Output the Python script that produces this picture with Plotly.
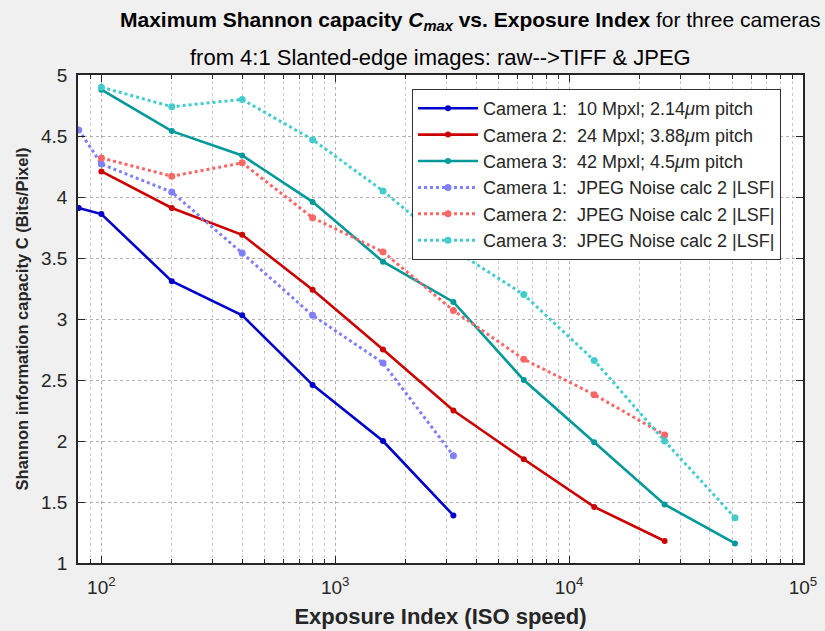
import plotly.graph_objects as go

iso_c1 = [80, 100, 200, 400, 800, 1600, 3200]
cap_c1 = [3.91, 3.86, 3.31, 3.03, 2.46, 2.00, 1.39]
iso_c2 = [100, 200, 400, 800, 1600, 3200, 6400, 12800, 25600]
cap_c2 = [4.21, 3.91, 3.69, 3.24, 2.75, 2.25, 1.85, 1.46, 1.18]
iso_c3 = [100, 200, 400, 800, 1600, 3200, 6400, 12800, 25600, 51200]
cap_c3 = [4.88, 4.54, 4.34, 3.96, 3.47, 3.14, 2.50, 1.99, 1.48, 1.16]

iso_j1 = [80, 100, 200, 400, 800, 1600, 3200]
cap_j1 = [4.55, 4.27, 4.04, 3.54, 3.03, 2.64, 1.88]
iso_j2 = [100, 200, 400, 800, 1600, 3200, 6400, 12800, 25600]
cap_j2 = [4.32, 4.17, 4.28, 3.83, 3.55, 3.07, 2.67, 2.38, 2.05]
iso_j3 = [100, 200, 400, 800, 1600, 3200, 6400, 12800, 25600, 51200]
cap_j3 = [4.90, 4.74, 4.80, 4.47, 4.05, 3.57, 3.20, 2.66, 2.00, 1.37]

x_major = [100, 1000, 10000, 100000]
x_major_text = ["10<sup>2</sup>", "10<sup>3</sup>", "10<sup>4</sup>", "10<sup>5</sup>"]
x_minor = [m * 10 ** e for e in (1, 2, 3, 4) for m in range(2, 10)]

nb = "\u00a0"
names = [
    f"Camera 1:{nb}{nb}10 Mpxl; 2.14<i>μ</i>m pitch",
    f"Camera 2:{nb}{nb}24 Mpxl; 3.88<i>μ</i>m pitch",
    f"Camera 3:{nb}{nb}42 Mpxl; 4.5<i>μ</i>m pitch",
    f"Camera 1:{nb}{nb}JPEG Noise calc 2 |LSF|",
    f"Camera 2:{nb}{nb}JPEG Noise calc 2 |LSF|",
    f"Camera 3:{nb}{nb}JPEG Noise calc 2 |LSF|",
]
series = [
    (iso_c1, cap_c1, "#0000CC", "solid"),
    (iso_c2, cap_c2, "#CC0000", "solid"),
    (iso_c3, cap_c3, "#009999", "solid"),
    (iso_j1, cap_j1, "#8080FF", "dot"),
    (iso_j2, cap_j2, "#FF6666", "dot"),
    (iso_j3, cap_j3, "#44CCCC", "dot"),
]

fig = go.Figure()
for (x, y, c, d), n in zip(series, names):
    fig.add_trace(go.Scatter(
        x=x, y=y, name=n, mode="lines+markers",
        line=dict(color=c, width=2.6 if d == "solid" else 3, dash=d),
        marker=dict(color=c, size=6 if d == "solid" else 7),
    ))

font = "Liberation Sans, Arial, sans-serif"
W, H = 725, 488
fig.update_layout(
    width=825, height=631,
    margin=dict(l=78, r=22, t=75, b=68, autoexpand=False),
    paper_bgcolor="#F0F0F0", plot_bgcolor="white",
    font=dict(family=font, color="#262626"),
    showlegend=True,
    legend=dict(x=(412 - 78) / W, y=(563 - 89) / H, xanchor="left", yanchor="top",
                bgcolor="white", bordercolor="#333333", borderwidth=1,
                font=dict(size=18, color="#262626"), tracegroupgap=0,
                itemwidth=60),
    annotations=[
        dict(text="<b>Maximum Shannon capacity <i>C</i><sub><i>max</i></sub> vs. Exposure Index</b> for three cameras",
             x=(470 - 78) / W, y=(563 - 21) / H, xref="paper", yref="paper",
             xanchor="center", yanchor="middle", showarrow=False,
             font=dict(size=21, color="black")),
        dict(text="from 4:1 Slanted-edge images: raw-->TIFF & JPEG",
             x=(440 - 78) / W, y=(563 - 58) / H, xref="paper", yref="paper",
             xanchor="center", yanchor="middle", showarrow=False,
             font=dict(size=22, color="black")),
    ],
)

fig.update_xaxes(
    type="log", range=[1.9, 5], automargin=False,
    tickmode="array", tickvals=x_major, ticktext=x_major_text,
    ticks="inside", ticklen=7, tickcolor="#262626",
    showline=True, linecolor="#262626", linewidth=1.5, mirror="allticks",
    showgrid=True, gridcolor="#B0B0B0", griddash="dot", gridwidth=1,
    minor=dict(tickmode="array", tickvals=x_minor, ticks="inside", ticklen=4,
               tickcolor="#262626", showgrid=True,
               gridcolor="#C8C8C8", griddash="dot", gridwidth=1),
    tickfont=dict(size=19, color="#262626"),
    ticklabelstandoff=6,
    title=dict(text="<b>Exposure Index (ISO speed)</b>", font=dict(size=22, color="#262626"), standoff=12),
    zeroline=False,
)
fig.update_yaxes(
    range=[1, 5], dtick=0.5, automargin=False,
    ticks="inside", ticklen=7, tickcolor="#262626",
    showline=True, linecolor="#262626", linewidth=1.5, mirror="allticks",
    showgrid=True, gridcolor="#B0B0B0", griddash="dot", gridwidth=1,
    tickfont=dict(size=19, color="#262626"),
    ticklabelstandoff=5,
    title=dict(text="<b>Shannon information capacity C (Bits/Pixel)</b>", font=dict(size=16.5, color="#262626"), standoff=8),
    zeroline=False,
)

fig.write_html("out.html")
